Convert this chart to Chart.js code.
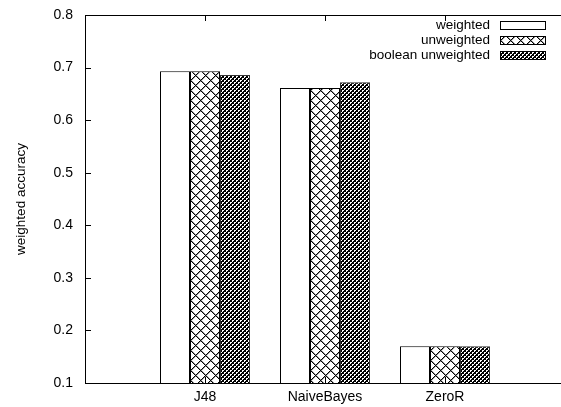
<!DOCTYPE html>
<html><head><meta charset="utf-8">
<script src="https://cdn.jsdelivr.net/npm/chart.js@4.4.1/dist/chart.umd.min.js"></script>
<style>html,body{margin:0;padding:0;overflow:hidden;background:#fff;width:561px;height:407px}canvas{display:block}</style>
</head><body>
<canvas id="c" width="565" height="407"></canvas>
<script>
const categories = ['J48', 'NaiveBayes', 'ZeroR'];
const seriesNames = ['weighted', 'unweighted', 'boolean unweighted'];
const weighted = [0.693, 0.661, 0.170];
const unweighted = [0.693, 0.661, 0.170];
const booleanUnweighted = [0.686, 0.672, 0.170];
const yTicks = [0.1, 0.2, 0.3, 0.4, 0.5, 0.6, 0.7, 0.8];

const canvas = document.getElementById('c');
const ctx = canvas.getContext('2d');
const FONT = '"Liberation Sans", Arial, Helvetica, sans-serif';

function pixelPattern(period, shade) {
  const c = document.createElement('canvas');
  c.width = c.height = period;
  const g = c.getContext('2d');
  const img = g.createImageData(period, period);
  for (let y = 0; y < period; y++) for (let x = 0; x < period; x++) {
    const i = (y * period + x) * 4;
    const v = shade(x, y, period);
    img.data[i] = img.data[i + 1] = img.data[i + 2] = v; img.data[i + 3] = 255;
  }
  g.putImageData(img, 0, 0);
  return ctx.createPattern(c, 'repeat');
}
const mod = (a, n) => ((a % n) + n) % n;
const crossPattern = pixelPattern(10, (x, y, p) => {
  const a = mod(x + y, p), b = mod(x - y, p);
  if (a === 0 || b === 0) return 0;
  if (a === 1 || b === 1) return 150;
  return 255;
});
const densePattern = pixelPattern(4, (x, y) => {
  const whites = ['0,0', '1,0', '0,1', '2,2', '3,2', '2,3'];
  return whites.includes(x + ',' + y) ? 255 : 0;
});
const fills = ['#ffffff', crossPattern, densePattern];

const pad = arr => [null, ...arr, null];
const labels = ['', ...categories, ''];

const extras = {
  id: 'extras',
  afterDatasetsDraw(chart) {
    const {ctx, chartArea: a, scales: {x, y}} = chart;
    ctx.save();
    ctx.strokeStyle = '#000';
    ctx.lineWidth = 1;
    ctx.beginPath();
    ctx.moveTo(a.left, Math.round(a.top) + 0.5);
    ctx.lineTo(a.right, Math.round(a.top) + 0.5);
    ctx.stroke();
    yTicks.forEach(v => {
      const py = Math.round(y.getPixelForValue(v)) + 0.5;
      ctx.beginPath();
      ctx.moveTo(a.left, py); ctx.lineTo(a.left + 6, py); ctx.stroke();
    });
    categories.forEach((c, i) => {
      const px = Math.round(x.getPixelForValue(i + 1)) + 0.5;
      ctx.beginPath();
      ctx.moveTo(px, a.bottom); ctx.lineTo(px, a.bottom - 6);
      ctx.moveTo(px, a.top); ctx.lineTo(px, a.top + 6);
      ctx.stroke();
    });
    ctx.font = '13.5px ' + FONT;
    ctx.textAlign = 'right';
    ctx.textBaseline = 'middle';
    chart.data.datasets.forEach((ds, i) => {
      const cy = Math.round(a.top) + 10 + i * 15;
      ctx.fillStyle = '#000';
      ctx.fillText(ds.label, 490, cy);
      ctx.fillStyle = ds.backgroundColor;
      ctx.fillRect(500, cy - 4, 46, 9);
      ctx.strokeRect(500.5, cy - 3.5, 45, 8);
    });
    ctx.restore();
  }
};

new Chart(ctx, {
  type: 'bar',
  data: {
    labels,
    datasets: [
      {label: seriesNames[0], data: pad(weighted), backgroundColor: fills[0], borderColor: '#000', borderWidth: 1},
      {label: seriesNames[1], data: pad(unweighted), backgroundColor: fills[1], borderColor: '#000', borderWidth: 1},
      {label: seriesNames[2], data: pad(booleanUnweighted), backgroundColor: fills[2], borderColor: '#333', borderWidth: 1}
    ]
  },
  options: {
    responsive: false,
    animation: false,
    devicePixelRatio: 1,
    categoryPercentage: 0.75,
    barPercentage: 1.0,
    layout: {padding: {top: 15, left: 0, right: 0, bottom: 0}},
    plugins: {legend: {display: false}, tooltip: {enabled: false}},
    scales: {
      x: {
        type: 'category',
        offset: false,
        grid: {display: false, drawTicks: false},
        border: {display: true, color: '#000', width: 1},
        ticks: {autoSkip: false, maxRotation: 0, padding: 6, color: '#000', font: {family: FONT, size: 14}},
        afterFit: s => { s.height = 24; s.paddingLeft = 0; s.paddingRight = 0; }
      },
      y: {
        min: 0.1, max: 0.8,
        grid: {display: false, drawTicks: false},
        border: {display: true, color: '#000', width: 1},
        afterBuildTicks: s => { s.ticks = yTicks.map(v => ({value: v})); },
        ticks: {padding: 12, color: '#000', font: {family: FONT, size: 14}, callback: v => Number(v).toFixed(1)},
        title: {display: true, text: 'weighted accuracy', color: '#000', font: {family: FONT, size: 13.5}, padding: {top: 13, bottom: 0}},
        afterFit: s => { s.width = 85; s.paddingTop = 0; s.paddingBottom = 0; }
      }
    }
  },
  plugins: [extras]
});
</script>
</body></html>
